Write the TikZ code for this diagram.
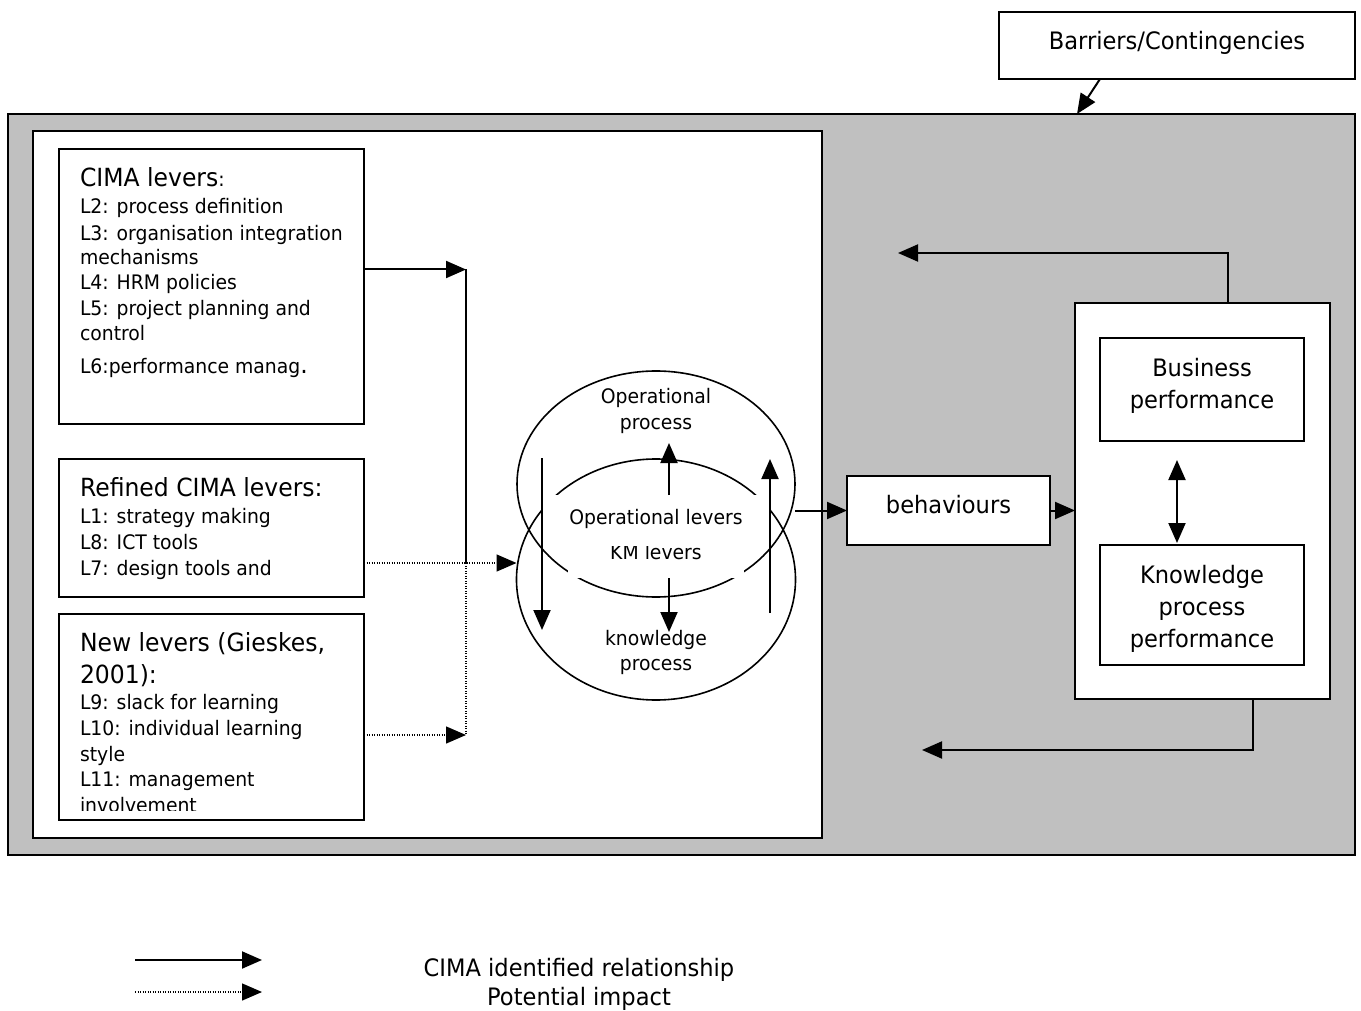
\documentclass[tikz,border=0pt]{standalone}
\usepackage{fontspec}
\setmainfont{DejaVu Sans}[FakeStretch=0.94]
\usetikzlibrary{arrows.meta,shapes.geometric,calc}
\definecolor{panelgrey}{HTML}{C0C0C0}
\newcommand\txbig{\fontsize{24}{31.5}\selectfont}
\newcommand\txsmall{\fontsize{20}{26}\selectfont}
\newcommand\txtitle{\fontsize{25}{31}\selectfont}

\begin{document}
\begin{tikzpicture}[x=1pt,y=-1pt,
  every node/.style={inner sep=0pt, outer sep=0pt},
  box/.style={draw, line width=2pt, fill=white, rectangle},
  tipend/.style={-{Triangle[length=20pt,width=17pt]}},
  conn/.style={line width=2pt, tipend},
  dotline/.style={line width=1.4pt, dash pattern=on 1.2pt off 1.3pt},
  dotconn/.style={dotline, tipend},
  bothends/.style={line width=2pt, {Triangle[length=20pt,width=17pt]}-{Triangle[length=20pt,width=17pt]}},
  ltxt/.style={anchor=base west, font=\txsmall},
  ttl/.style={anchor=base west, font=\txtitle},
  ctxt/.style={anchor=base, font=\txsmall},
  btxt/.style={anchor=base, font=\txbig},
  oval/.style={ellipse, draw, line width=1.6pt},
  mask/.style={fill=white, draw=none, rectangle}
]
\useasboundingbox (0,0) rectangle (1361,1011);

% grey panel and white lever area
\node[draw, line width=2pt, fill=panelgrey, minimum width=1347pt, minimum height=741pt] (frame) at (681.5,484.5) {};
\node[box, minimum width=789pt, minimum height=707pt] (inner) at (427.5,484.5) {};

% barriers
\node[box, minimum width=356pt, minimum height=67pt] (barriers) at (1177,45.5) {};
\node[btxt] (barrierstxt) at (1177,50) {Barriers/Contingencies};
\coordinate (barrierhit) at (1077,114);
\draw[conn] ([xshift=-77pt]barriers.south) -- (barrierhit);

% lever boxes
\node[box, minimum width=305pt, minimum height=275pt] (cima) at (211.5,286.5) {};
\node[ttl] (c0) at (80,187) {CIMA levers{\txsmall :}};
\node[ltxt] (c1) at (80,214) {L2: process definition};
\node[ltxt] (c2) at (80,240.5) {L3: organisation integration};
\node[ltxt] (c3) at (80,265) {mechanisms};
\node[ltxt] (c4) at (80,290) {L4: HRM policies};
\node[ltxt] (c5) at (80,315.5) {L5: project planning and};
\node[ltxt] (c6) at (80,341) {control};
\node[ltxt] (c7) at (80,373) {L6:performance manag{\txtitle .}};

\node[box, minimum width=305pt, minimum height=138pt] (refined) at (211.5,528) {};
\node[ttl] (r0) at (80,496) {Refined CIMA levers:};
\node[ltxt] (r1) at (80,523) {L1: strategy making};
\node[ltxt] (r2) at (80,549.5) {L8: ICT tools};
\node[ltxt] (r3) at (80,575) {L7: design tools and};

\node[box, minimum width=305pt, minimum height=206pt] (newlev) at (211.5,717) {};
\begin{scope}
  \clip (61,616) rectangle (362,810);
  \node[ttl] (n0) at (80,651.5) {New levers (Gieskes,};
  \node[ttl] (n1) at (80,683) {2001):};
  \node[ltxt] (n2) at (80,709) {L9: slack for learning};
  \node[ltxt] (n3) at (80,735.5) {L10: individual learning};
  \node[ltxt] (n4) at (80,761) {style};
  \node[ltxt] (n5) at (80,786.5) {L11: management};
  \node[ltxt] (n6) at (80,812.5) {involvement};
\end{scope}

% overlapping process ellipses
\node[oval, minimum width=278pt, minimum height=226pt] (opel) at (656,484) {};
\node[oval, minimum width=279pt, minimum height=241pt] (kmel) at (656,579.5) {};
\node[ctxt] (op1) at (656,403) {Operational};
\node[ctxt] (op2) at (656,429) {process};
\node[ctxt] (kp1) at (656,645) {knowledge};
\node[ctxt] (kp2) at (656,670) {process};

\node[mask, minimum width=176pt, minimum height=43pt] (maskB) at (656,556.5) {};
\node[ctxt] (kmlev) at (656,559) {KM levers};
\node[mask, minimum width=228pt, minimum height=51pt] (maskA) at (656,520.5) {};
\node[ctxt] (oplev) at (656,524) {Operational levers};

\coordinate (ldtop) at (542,458);
\coordinate (ldbot) at (542,630);
\coordinate (mutip) at (669,443);
\coordinate (mdtip) at (669,632);
\coordinate (rubot) at (770,613);
\coordinate (rutip) at (770,459);
\draw[conn] (ldtop) -- (ldbot);
\draw[conn] (maskA.north -| mutip) -- (mutip);
\draw[conn] (maskB.south -| mdtip) -- (mdtip);
\draw[conn] (rubot) -- (rutip);

% lever connectors
\coordinate (jtop) at (466,269.5);
\coordinate (jmid) at (466,563);
\coordinate (jbot) at (466,735);
\draw[conn] (cima.east |- jtop) -- (jtop);
\draw[line width=2pt] (jtop) -- (jmid);
\draw[dotline] (jmid) -- (jbot);
\draw[dotconn] (refined.east |- jmid) -- (kmel.west |- jmid);
\draw[dotconn] (newlev.east |- jbot) -- (jbot);

% behaviours and performance
\node[box, minimum width=203pt, minimum height=69pt] (behav) at (948.5,510.5) {};
\node[btxt] (behavtxt) at (948.5,513) {behaviours};
\draw[conn] (opel.east |- behav.west) -- (behav.west);

\node[box, minimum width=255pt, minimum height=396pt] (perf) at (1202.5,501) {};
\draw[conn] (behav.east) -- (perf.west |- behav.east);

\node[box, minimum width=204pt, minimum height=103pt] (bus) at (1202,389.5) {};
\node[btxt] (bus1) at (1202,376) {Business};
\node[btxt] (bus2) at (1202,408) {performance};

\node[box, minimum width=204pt, minimum height=120pt] (kpp) at (1202,605) {};
\node[btxt] (kpp1) at (1202,583) {Knowledge};
\node[btxt] (kpp2) at (1202,615) {process};
\node[btxt] (kpp3) at (1202,647) {performance};

\coordinate (dtop) at (1177,460);
\coordinate (dbot) at (1177,543);
\draw[bothends] (dtop) -- (dbot);

% feedback loops
\coordinate (fbtop) at (898,253);
\coordinate (fbbot) at (922,750);
\draw[conn] ([xshift=25.5pt]perf.north) |- (fbtop);
\draw[conn] ([xshift=50.5pt]perf.south) |- (fbbot);

% key
\coordinate (ka) at (135,960);
\coordinate (kb) at (262,960);
\coordinate (kc) at (135,992);
\coordinate (kd) at (262,992);
\draw[conn] (ka) -- (kb);
\draw[dotconn] (kc) -- (kd);
\node[btxt] (key1) at (579,976) {CIMA identified relationship};
\node[btxt] (key2) at (579,1005) {Potential impact};
\end{tikzpicture}
\end{document}
